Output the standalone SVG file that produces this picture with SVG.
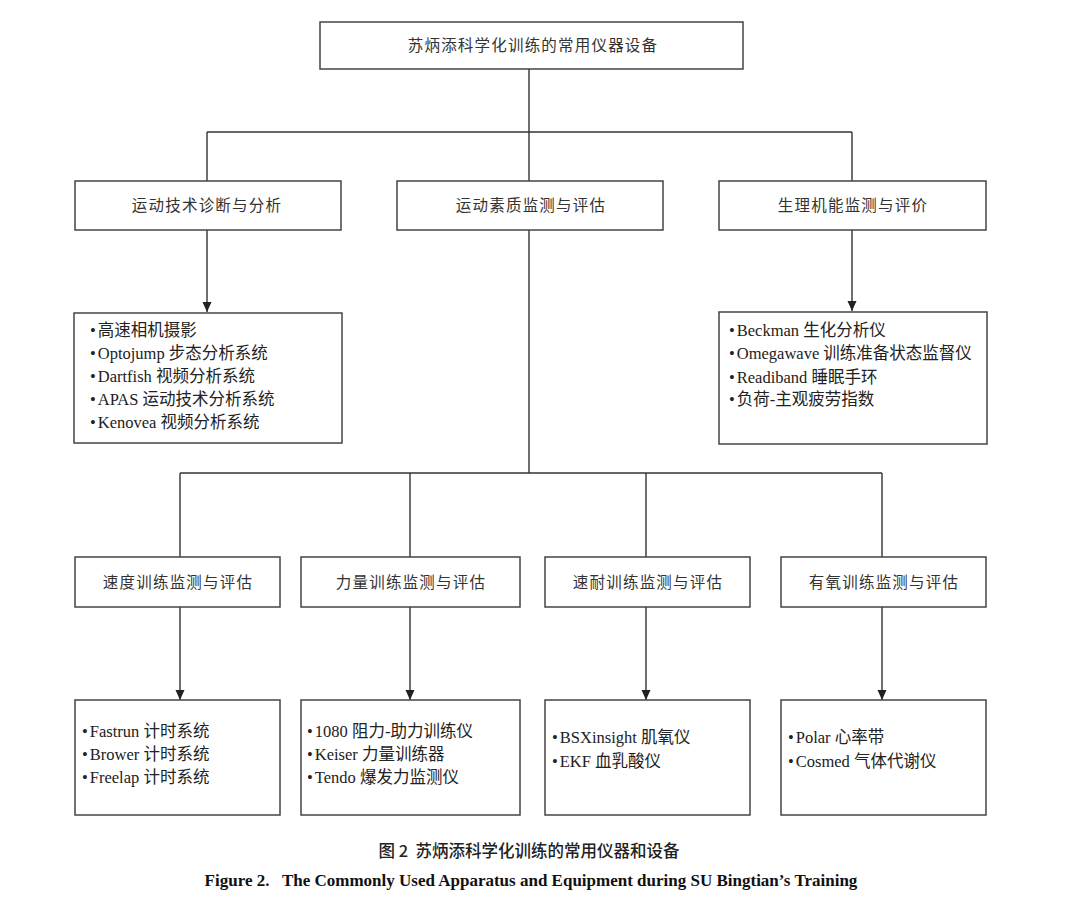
<svg xmlns="http://www.w3.org/2000/svg" width="1080" height="905" viewBox="0 0 1080 905">
<defs>
<marker id="arr" viewBox="0 0 10 10" refX="10" refY="5" markerWidth="10" markerHeight="10" markerUnits="userSpaceOnUse" orient="auto">
<path d="M0,0.5 L10,5 L0,9.5 Z" fill="#222"/>
</marker>
<style>
.box{fill:#fff;stroke:#444;stroke-width:1.5}
.ln{fill:none;stroke:#333;stroke-width:1.4}
.t{font-family:"Liberation Serif","Noto Sans CJK SC",serif;font-size:15.5px;fill:#333;letter-spacing:1.2px;text-anchor:middle}
.d{font-family:"Liberation Serif","Noto Sans CJK SC",serif;font-size:16.5px;fill:#222}
.c1{font-family:"Noto Sans CJK SC",sans-serif;font-size:16.5px;font-weight:500;fill:#222}
.c2{font-family:"Liberation Serif",serif;font-size:17px;font-weight:bold;fill:#111}
</style>
</defs>
<rect width="1080" height="905" fill="#fff"/>
<g id="connectors">
<path class="ln" d="M529,69 V181"/>
<path class="ln" d="M207,132 H852"/>
<path class="ln" d="M207,132 V181"/>
<path class="ln" d="M852,132 V181"/>
<path class="ln" d="M207,230 V312" marker-end="url(#arr)"/>
<path class="ln" d="M852,230 V311" marker-end="url(#arr)"/>
<path class="ln" d="M529,230 V473"/>
<path class="ln" d="M180,473 H882"/>
<path class="ln" d="M180,473 V557"/>
<path class="ln" d="M410,473 V557"/>
<path class="ln" d="M646,473 V557"/>
<path class="ln" d="M882,473 V557"/>
<path class="ln" d="M180,607 V700" marker-end="url(#arr)"/>
<path class="ln" d="M410,607 V700" marker-end="url(#arr)"/>
<path class="ln" d="M646,607 V700" marker-end="url(#arr)"/>
<path class="ln" d="M882,607 V700" marker-end="url(#arr)"/>
</g>
<g id="root">
<rect class="box" x="320" y="22" width="423" height="47"/>
<text class="t" x="533" y="51">苏炳添科学化训练的常用仪器设备</text>
</g>
<g id="tech">
<rect class="box" x="75" y="181" width="266" height="49"/>
<text class="t" x="207" y="211">运动技术诊断与分析</text>
</g>
<g id="quality">
<rect class="box" x="397" y="181" width="266" height="49"/>
<text class="t" x="531" y="211">运动素质监测与评估</text>
</g>
<g id="physio">
<rect class="box" x="719" y="181" width="267" height="49"/>
<text class="t" x="853" y="211">生理机能监测与评价</text>
</g>
<g id="tech-items">
<rect class="box" x="74" y="313" width="268" height="130"/>
<text class="d" x="90" y="336">•<tspan dx="2">高速相机摄影</tspan></text>
<text class="d" x="90" y="359">•<tspan dx="2">Optojump 步态分析系统</tspan></text>
<text class="d" x="90" y="382">•<tspan dx="2">Dartfish 视频分析系统</tspan></text>
<text class="d" x="90" y="405">•<tspan dx="2">APAS 运动技术分析系统</tspan></text>
<text class="d" x="90" y="428">•<tspan dx="2">Kenovea 视频分析系统</tspan></text>
</g>
<g id="physio-items">
<rect class="box" x="719" y="312" width="268" height="132"/>
<text class="d" x="729" y="336">•<tspan dx="2">Beckman 生化分析仪</tspan></text>
<text class="d" x="729" y="359">•<tspan dx="2">Omegawave 训练准备状态监督仪</tspan></text>
<text class="d" x="729" y="383">•<tspan dx="2">Readiband 睡眠手环</tspan></text>
<text class="d" x="729" y="405">•<tspan dx="2">负荷-主观疲劳指数</tspan></text>
</g>
<g id="speed">
<rect class="box" x="75" y="557" width="205" height="50"/>
<text class="t" x="178" y="588">速度训练监测与评估</text>
</g>
<g id="strength">
<rect class="box" x="301" y="557" width="219" height="50"/>
<text class="t" x="411" y="588">力量训练监测与评估</text>
</g>
<g id="endurance">
<rect class="box" x="545" y="557" width="205" height="50"/>
<text class="t" x="648" y="588">速耐训练监测与评估</text>
</g>
<g id="aerobic">
<rect class="box" x="781" y="557" width="205" height="50"/>
<text class="t" x="884" y="588">有氧训练监测与评估</text>
</g>
<g id="speed-items">
<rect class="box" x="75" y="700" width="205" height="115"/>
<text class="d" x="82" y="737">•<tspan dx="2">Fastrun 计时系统</tspan></text>
<text class="d" x="82" y="760">•<tspan dx="2">Brower 计时系统</tspan></text>
<text class="d" x="82" y="783">•<tspan dx="2">Freelap 计时系统</tspan></text>
</g>
<g id="strength-items">
<rect class="box" x="301" y="700" width="219" height="115"/>
<text class="d" x="307" y="737">•<tspan dx="2">1080 阻力-助力训练仪</tspan></text>
<text class="d" x="307" y="760">•<tspan dx="2">Keiser 力量训练器</tspan></text>
<text class="d" x="307" y="783">•<tspan dx="2">Tendo 爆发力监测仪</tspan></text>
</g>
<g id="endurance-items">
<rect class="box" x="545" y="700" width="205" height="115"/>
<text class="d" x="552" y="743">•<tspan dx="2">BSXinsight 肌氧仪</tspan></text>
<text class="d" x="552" y="767">•<tspan dx="2">EKF 血乳酸仪</tspan></text>
</g>
<g id="aerobic-items">
<rect class="box" x="781" y="700" width="205" height="115"/>
<text class="d" x="788" y="743">•<tspan dx="2">Polar 心率带</tspan></text>
<text class="d" x="788" y="767">•<tspan dx="2">Cosmed 气体代谢仪</tspan></text>
</g>
<g id="caption">
<text class="c1" x="529" y="857" text-anchor="middle" xml:space="preserve">图 2  苏炳添科学化训练的常用仪器和设备</text>
<text class="c2" x="531" y="886" text-anchor="middle" xml:space="preserve">Figure 2.   The Commonly Used Apparatus and Equipment during SU Bingtian’s Training</text>
</g>
</svg>
